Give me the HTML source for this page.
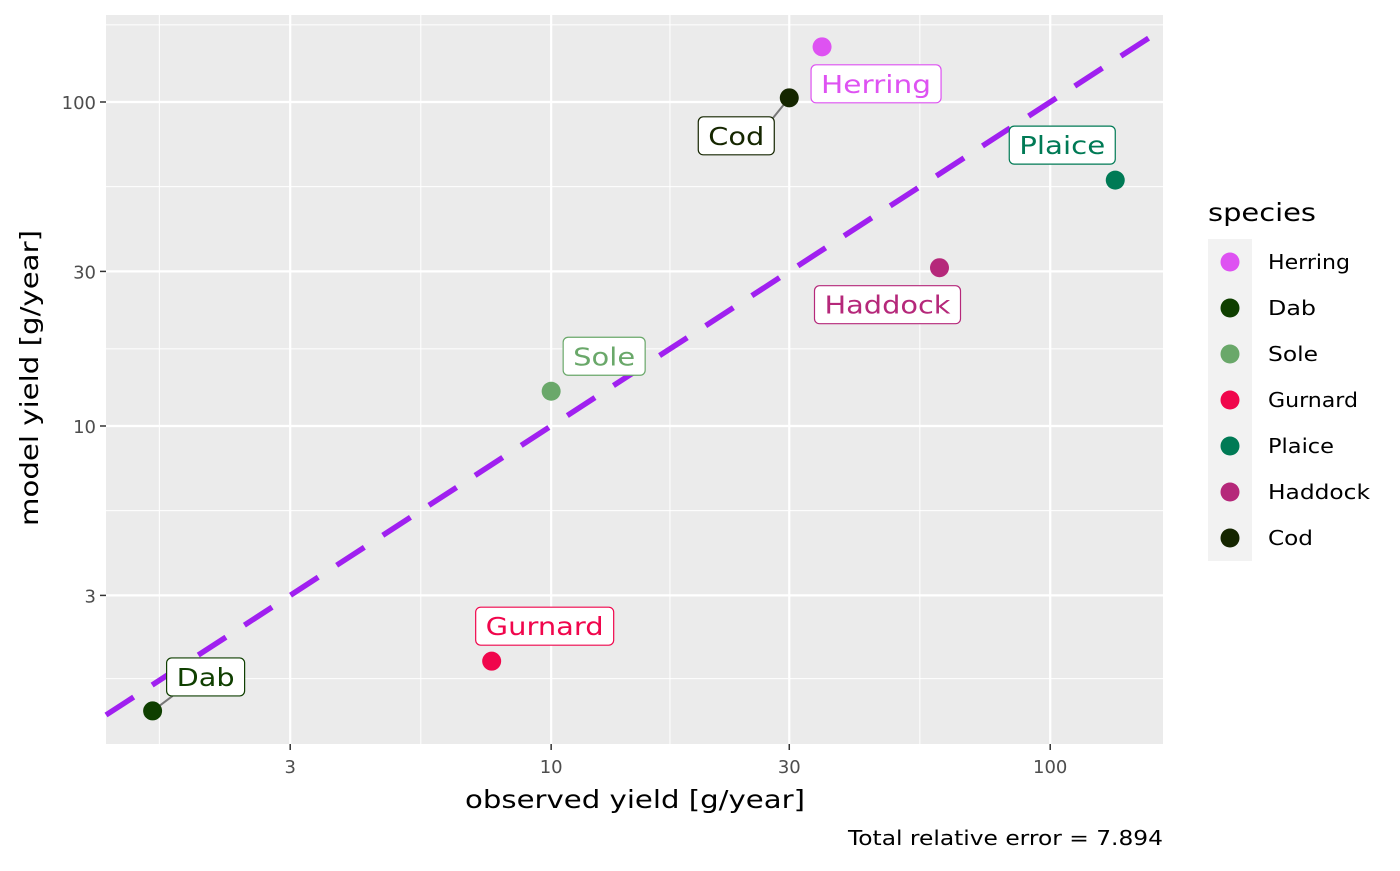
<!DOCTYPE html>
<html><head><meta charset="utf-8"><style>
body{margin:0;background:#fff;font-family:"Liberation Sans","DejaVu Sans",sans-serif;}
</style></head><body>
<svg id="chart" width="1400" height="866" xmlns="http://www.w3.org/2000/svg" font-family="DejaVu Sans, Liberation Sans, sans-serif">
<rect x="106" y="15" width="1057" height="729" fill="#ebebeb"/>
<g id="grid"></g>
<g id="line"></g>
<g id="marks"></g>
<g id="axes"></g>
<text x="465" y="808" font-size="25" textLength="340" lengthAdjust="spacingAndGlyphs" fill="#000">observed yield [g/year]</text>
<text transform="translate(38,526) rotate(-90)" font-size="25" textLength="296" lengthAdjust="spacingAndGlyphs" fill="#000">model yield [g/year]</text>
<text x="848" y="845" font-size="20" textLength="315" lengthAdjust="spacingAndGlyphs" fill="#000">Total relative error = 7.894</text>
<g id="legend"></g>
</svg>
<script>
const species=["Herring","Dab","Sole","Gurnard","Plaice","Haddock","Cod"];
const colors=["#de52f2","#0f3f00","#6aa86a","#f0064c","#007a55","#b5287a","#152600"];
const observed=[34.9,1.59,10,7.6,135,60,30];
const model=[148,1.32,12.8,1.88,57.4,30.8,103];
const xTicks=[3,10,30,100];
const yTicks=[3,10,30,100];
const xMinor=[1.64,5.48,17.3,54.8];
const yMinor=[1.66,5.48,17.3,54.8,173];
const labelOff=[[54,37],[53,-34],[53,-35],[53,-35],[-53,-35],[-52,37],[-53,38]];
const labelW=[110,58,62,118,86,126,56];
const legendW=[82,48,50,90,66,102,45];
const NS="http://www.w3.org/2000/svg";
const X0=106,X1=1163,Y0=15,Y1=744;
const xl0=0.108,xl1=2.226,yl0=0.0185,yl1=2.2685;
const xs=v=>X0+(Math.log10(v)-xl0)/(xl1-xl0)*(X1-X0);
const ys=v=>Y1-(Math.log10(v)-yl0)/(yl1-yl0)*(Y1-Y0);
function mk(tag,attrs,parent){const e=document.createElementNS(NS,tag);for(const k in attrs)e.setAttribute(k,attrs[k]);parent.appendChild(e);return e;}
const grid=document.getElementById('grid');
xMinor.forEach(v=>{const l=mk('line',{x1:xs(v),x2:xs(v),y1:Y0,y2:Y1,stroke:'#fff','stroke-width':1},grid);

});
yMinor.forEach(v=>{const l=mk('line',{x1:X0,x2:X1,y1:ys(v),y2:ys(v),stroke:'#fff','stroke-width':1},grid);

});
const axes=document.getElementById('axes');
xTicks.forEach(v=>{const x=xs(v);
const l=mk('line',{x1:x,x2:x,y1:Y0,y2:Y1,stroke:'#fff','stroke-width':2.2},grid);


const t=mk('line',{x1:x,x2:x,y1:Y1,y2:Y1+6,stroke:'#333','stroke-width':1.5},axes);


const tx=mk('text',{x:x,y:Y1+29,'font-size':18,'text-anchor':'middle',fill:'#4d4d4d'},axes);tx.textContent=v;

});
yTicks.forEach(v=>{const y=ys(v);
const l=mk('line',{x1:X0,x2:X1,y1:y,y2:y,stroke:'#fff','stroke-width':2.2},grid);


const t=mk('line',{x1:X0-6,x2:X0,y1:y,y2:y,stroke:'#333','stroke-width':1.5},axes);


const tx=mk('text',{x:X0-10,y:y+7,'font-size':18,'text-anchor':'end',fill:'#4d4d4d'},axes);tx.textContent=v;

});
const lo=Math.pow(10,xl0),hi=Math.pow(10,xl1);
const dl=mk('line',{x1:xs(lo),y1:ys(lo),x2:xs(hi),y2:ys(hi),stroke:'#a020f0','stroke-width':5.5,'stroke-dasharray':'33 22'},document.getElementById('line'));


const marks=document.getElementById('marks');
species.forEach((s,i)=>{const px=xs(observed[i]),py=ys(model[i]);
const w=labelW[i]+20,h=38;const cx=px+labelOff[i][0],cy=py+labelOff[i][1];
if(s==="Cod"||s==="Dab"){const sg=mk('line',{x1:px,y1:py,x2:cx+(s==="Cod"?w/2-2:-w/2+6),y2:cy+(s==="Cod"?-h/2+2:h/2),stroke:'#777','stroke-width':2},marks);

}
const c=mk('circle',{cx:px,cy:py,r:9.5,fill:colors[i]},marks);


const r=mk('rect',{x:cx-w/2,y:cy-h/2,width:w,height:h,rx:5,fill:'#fff',stroke:colors[i],'stroke-width':1.2},marks);


const t=mk('text',{x:cx,y:cy+9,'font-size':25,'text-anchor':'middle',fill:colors[i],textLength:labelW[i],lengthAdjust:'spacingAndGlyphs'},marks);t.textContent=s;

});
const lg=document.getElementById('legend');
const lt=mk('text',{x:1208,y:221,'font-size':25,fill:'#000',textLength:108,lengthAdjust:'spacingAndGlyphs'},lg);lt.textContent='species';


species.forEach((s,i)=>{const y=262+i*46;
const k=mk('rect',{x:1208,y:y-23,width:44,height:46,fill:'#f2f2f2'},lg);


const c=mk('circle',{cx:1230,cy:y,r:9.5,fill:colors[i]},lg);


const t=mk('text',{x:1268,y:y+7,'font-size':20,fill:'#000',textLength:legendW[i],lengthAdjust:'spacingAndGlyphs'},lg);t.textContent=s;

});
</script>
</body></html>
